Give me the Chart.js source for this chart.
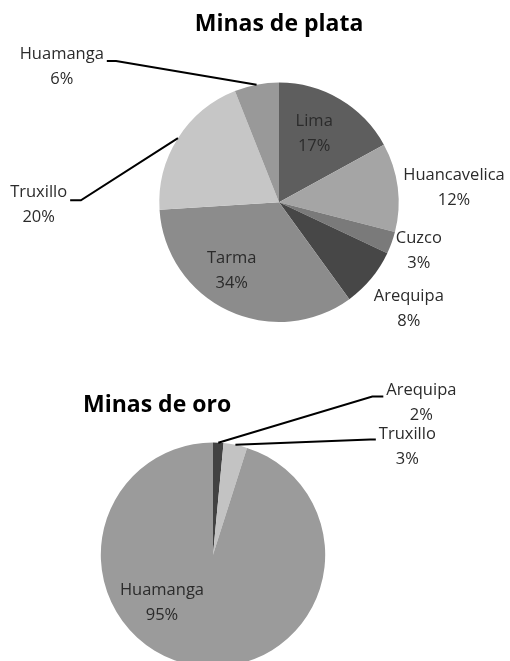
<!DOCTYPE html>
<html lang="es">
<head>
    <meta charset="UTF-8">
    <title>Minas de plata y oro</title>
    <style>
        body {
            margin: 0;
            width: 510px;
            height: 661px;
            overflow: hidden;
            background: #fff;
        }
        canvas {
            position: absolute;
            left: 0;
        }
        #plata-chart { top: 0; }
        #oro-chart { top: 340px; }
    </style>
</head>
<body>
    <canvas id="plata-chart" width="510" height="340"></canvas>
    <canvas id="oro-chart" width="510" height="340"></canvas>

    <script src="https://cdn.jsdelivr.net/npm/chart.js"></script>
    <script>
        // silver mines, share in %
        const plataLabels = ['Lima', 'Huancavelica', 'Cuzco', 'Arequipa', 'Tarma', 'Truxillo', 'Huamanga'];
        const plataValues = [17, 12, 3, 8, 34, 20, 6];
        const plataColors = ['#5e5e5e', '#a5a5a5', '#7a7a7a', '#474747', '#8c8c8c', '#c6c6c6', '#999999'];

        // gold mines, share in %
        const oroLabels = ['Arequipa', 'Truxillo', 'Huamanga'];
        const oroValues = [1.5, 3.4, 95.1];
        const oroColors = ['#424242', '#c3c3c3', '#9b9b9b'];

        const FONT = "'Open Sans', sans-serif";

        // draws "name / xx%" labels, with leader lines where a slice has an elbow
        // positions are in units of the pie radius, measured from its centre
        const pieLabels = {
            id: 'pieLabels',
            afterDatasetsDraw(chart, args, opts) {
                const ctx = chart.ctx;
                const meta = chart.getDatasetMeta(0);
                const data = chart.data.datasets[0].data;
                const total = data.reduce((a, b) => a + b, 0);
                const cx = meta.data[0].x, cy = meta.data[0].y, r = meta.data[0].outerRadius;

                ctx.save();
                ctx.font = opts.size + 'px ' + FONT;
                ctx.textAlign = 'center';
                ctx.textBaseline = 'middle';
                ctx.strokeStyle = '#000';
                ctx.lineWidth = 2;

                meta.data.forEach((arc, i) => {
                    const place = opts.places[i];
                    const lines = [chart.data.labels[i], Math.round(data[i] / total * 100) + '%'];
                    const lx = cx + place.at[0] * r;
                    const ly = cy + place.at[1] * r;

                    if (place.elbow) {
                        const mid = (arc.startAngle + arc.endAngle) / 2;
                        const ex = cx + place.elbow[0] * r;
                        const ey = cy + place.elbow[1] * r;
                        const w = Math.max(...lines.map(t => ctx.measureText(t).width));
                        const tx = lx < ex ? lx + w / 2 + 3 : lx - w / 2 - 3;
                        ctx.beginPath();
                        ctx.moveTo(cx + Math.cos(mid) * r, cy + Math.sin(mid) * r);
                        ctx.lineTo(ex, ey);
                        ctx.lineTo(tx, ey);
                        ctx.stroke();
                    }

                    ctx.fillStyle = '#2b2b2b';
                    lines.forEach((t, k) => ctx.fillText(t, lx, ly + (k - 0.5) * opts.lineHeight));
                });
                ctx.restore();
            }
        };

        function makePie(id, labels, values, colors, title, layout, places) {
            return new Chart(document.getElementById(id), {
                type: 'pie',
                data: {
                    labels: labels,
                    datasets: [{
                        data: values,
                        backgroundColor: colors,
                        borderWidth: 0
                    }]
                },
                options: {
                    responsive: false,
                    animation: false,
                    layout: { padding: layout.padding },
                    plugins: {
                        legend: { display: false },
                        tooltip: { enabled: false },
                        title: {
                            display: true,
                            text: title,
                            align: layout.align,
                            color: '#000',
                            font: { family: FONT, size: 23, weight: 'bold' },
                            padding: layout.titlePadding
                        },
                        pieLabels: { size: 16.5, lineHeight: 25, places: places }
                    }
                },
                plugins: [pieLabels]
            });
        }

        makePie('plata-chart', plataLabels, plataValues, plataColors, 'Minas de plata',
            { padding: { left: 100, right: 52, top: 0, bottom: 18 }, align: 'center', titlePadding: { top: 11, bottom: 44 } },
            [
                { at: [0.294, -0.57] },
                { at: [1.462, -0.118] },
                { at: [1.168, 0.403] },
                { at: [1.084, 0.891] },
                { at: [-0.395, 0.571] },
                { at: [-2.008, 0.025], elbow: [-1.655, -0.017] },
                { at: [-1.815, -1.13], elbow: [-1.361, -1.18] }
            ]);

        makePie('oro-chart', oroLabels, oroValues, oroColors, 'Minas de oro',
            { padding: { left: 83, right: 167, top: 0, bottom: 13 }, align: 'start', titlePadding: { top: 52, bottom: 23 } },
            [
                { at: [1.857, -1.353], elbow: [1.42, -1.411] },
                { at: [1.732, -0.96], elbow: [1.402, -1.027] },
                { at: [-0.455, 0.429] }
            ]);
    </script>
</body>
</html>
